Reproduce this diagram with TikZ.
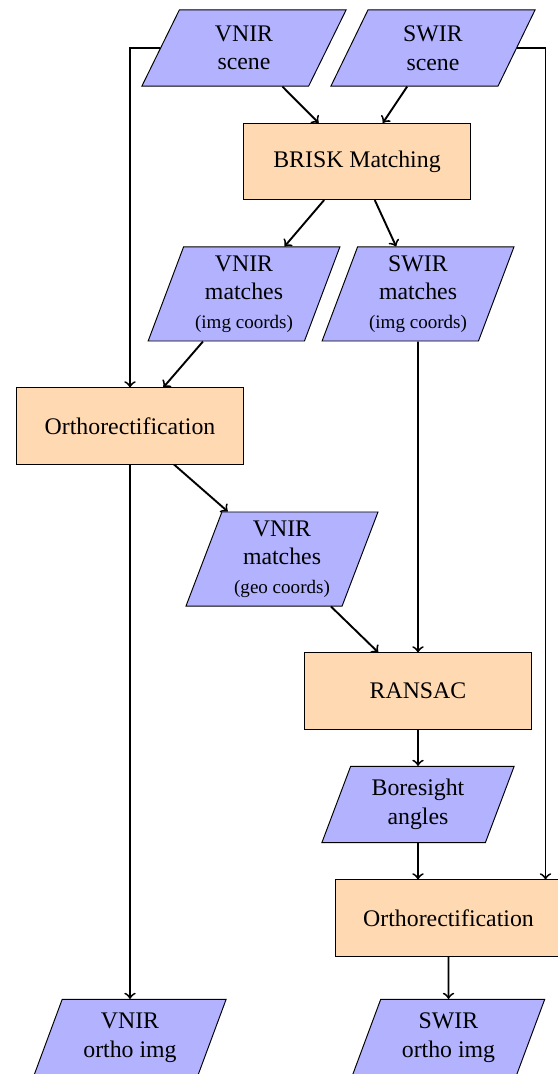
\documentclass[tikz,border=0pt]{standalone}
\usepackage{fontspec}
\setmainfont{Liberation Serif}
\usetikzlibrary{shapes.geometric}

\tikzset{
  iobox/.style={trapezium, trapezium left angle=70, trapezium right angle=110,
    trapezium stretches=true, draw=black, fill=blue!30, align=center,
    minimum width=81pt, minimum height=32pt, inner sep=2pt},
  procbox/.style={rectangle, draw=black, fill=orange!30,
    minimum width=95.3pt, minimum height=32pt},
  link/.style={->, thick}
}

\begin{document}
\begin{tikzpicture}[x=0.42pt, y=-0.42pt]
      \useasboundingbox (0,0) rectangle (558,1074);

      % inputs
      \node[iobox, minimum width=86pt] (vnirscene) at (244,48) {VNIR\\scene};
      \node[iobox, minimum width=86pt] (swirscene) at (433,48) {SWIR\\scene};

      \node[procbox] (brisk) at (357,161.5) {BRISK Matching};

      \node[iobox, minimum height=39.5pt] (vnirimg) at (244,294) {VNIR\\matches\\{\footnotesize (img coords)}};
      \node[iobox, minimum height=39.5pt] (swirimg) at (418,294) {SWIR\\matches\\{\footnotesize (img coords)}};

      \node[procbox] (orthovnir) at (130,426) {Orthorectification};

      \node[iobox, minimum height=39.5pt] (vnirgeo) at (282,559) {VNIR\\matches\\{\footnotesize (geo coords)}};

      \node[procbox] (ransac) at (418,691) {RANSAC};

      \node[iobox] (boresight) at (418,804.5) {Boresight\\angles};

      \node[procbox] (orthoswir) at (448.5,918) {Orthorectification};

      % outputs
      \node[iobox] (vnirout) at (130,1037.5) {VNIR\\ortho img};
      \node[iobox] (swirout) at (448.5,1037.5) {SWIR\\ortho img};

      \coordinate (rail) at (545.5,918);

      \draw[link] (vnirscene) -- (brisk);
      \draw[link] (swirscene) -- (brisk);
      \draw[link] (brisk) -- (vnirimg);
      \draw[link] (brisk) -- (swirimg);
      \draw[link] (vnirscene.west) -| (orthovnir.north);
      \draw[link] (vnirimg) -- (orthovnir);
      \draw[link] (orthovnir) -- (vnirgeo);
      \draw[link] (vnirgeo) -- (ransac);
      \draw[link] (swirimg) -- (ransac);
      \draw[link] (ransac) -- (boresight);
      \draw[link] (boresight) -- (boresight |- orthoswir.north);
      \draw[link] (swirscene.east) -| (rail |- orthoswir.north);
      \draw[link] (orthovnir) -- (vnirout);
      \draw[link] (orthoswir) -- (swirout);
\end{tikzpicture}
\end{document}
